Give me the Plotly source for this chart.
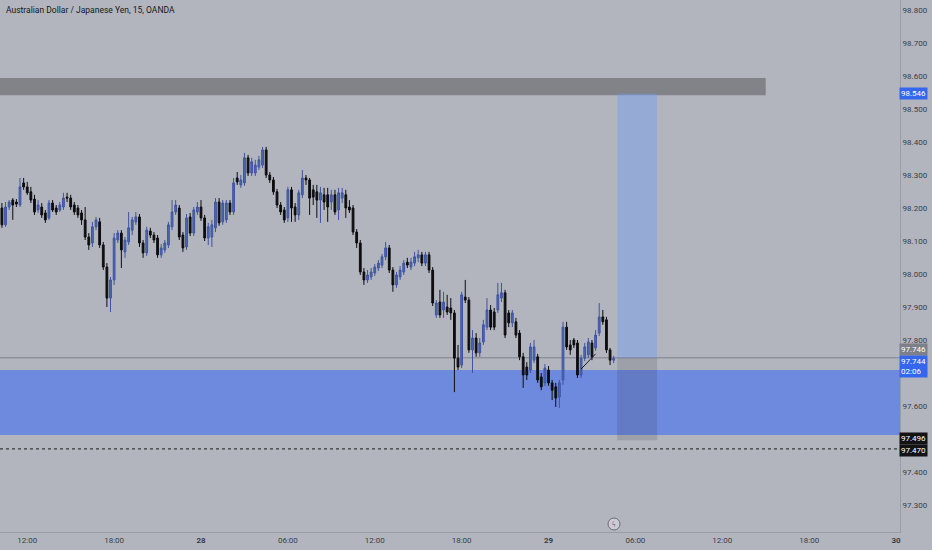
import pandas as pd
import plotly.graph_objects as go

# ---------------- data ----------------
start_time = "2023-11-27 10:15"
bar_freq = "15min"

open_ = [98.200, 98.149, 98.203, 98.224, 98.218, 98.209, 98.276, 98.264, 98.249, 98.227,
         98.194, 98.203, 98.185, 98.170, 98.215, 98.200, 98.194, 98.203, 98.233, 98.230,
         98.209, 98.200, 98.185, 98.164, 98.112, 98.094, 98.143, 98.158, 98.088, 98.021,
         97.927, 97.982, 98.103, 98.124, 98.067, 98.097, 98.133, 98.158, 98.173, 98.094,
         98.064, 98.130, 98.118, 98.109, 98.058, 98.073, 98.088, 98.143, 98.188, 98.200,
         98.118, 98.082, 98.173, 98.124, 98.188, 98.203, 98.170, 98.109, 98.112, 98.140,
         98.218, 98.158, 98.164, 98.215, 98.188, 98.291, 98.270, 98.276, 98.352, 98.306,
         98.306, 98.324, 98.330, 98.376, 98.300, 98.285, 98.249, 98.209, 98.194, 98.170,
         98.255, 98.203, 98.179, 98.240, 98.291, 98.285, 98.255, 98.249, 98.224, 98.240,
         98.240, 98.218, 98.240, 98.194, 98.230, 98.240, 98.203, 98.200, 98.127, 98.094,
         98.006, 97.982, 97.991, 98.003, 98.018, 98.027, 98.052, 98.079, 98.012, 97.967,
         97.991, 98.006, 98.036, 98.021, 98.033, 98.049, 98.058, 98.033, 98.058, 98.012,
         97.876, 97.915, 97.891, 97.900, 97.897, 97.882, 97.745, 97.724, 97.930, 97.921,
         97.770, 97.806, 97.761, 97.794, 97.839, 97.891, 97.885, 97.891, 97.927, 97.943,
         97.882, 97.852, 97.855, 97.821, 97.749, 97.718, 97.709, 97.739, 97.749, 97.688,
         97.670, 97.709, 97.670, 97.658, 97.627, 97.679, 97.839, 97.785, 97.800, 97.791,
         97.694, 97.745, 97.755, 97.791, 97.776, 97.821, 97.870, 97.861, 97.770, 97.739]

high = [98.215, 98.218, 98.224, 98.230, 98.227, 98.291, 98.291, 98.279, 98.264, 98.240,
        98.224, 98.215, 98.194, 98.224, 98.224, 98.209, 98.218, 98.246, 98.246, 98.240,
        98.218, 98.209, 98.194, 98.203, 98.124, 98.158, 98.173, 98.170, 98.097, 98.033,
        97.991, 98.124, 98.133, 98.133, 98.112, 98.188, 98.173, 98.188, 98.182, 98.103,
        98.143, 98.140, 98.127, 98.118, 98.091, 98.103, 98.158, 98.224, 98.224, 98.209,
        98.127, 98.182, 98.185, 98.203, 98.218, 98.224, 98.179, 98.155, 98.164, 98.230,
        98.230, 98.224, 98.224, 98.224, 98.291, 98.309, 98.300, 98.367, 98.361, 98.352,
        98.346, 98.358, 98.385, 98.385, 98.309, 98.294, 98.258, 98.218, 98.203, 98.264,
        98.264, 98.215, 98.255, 98.315, 98.300, 98.291, 98.270, 98.270, 98.264, 98.261,
        98.261, 98.255, 98.255, 98.261, 98.261, 98.255, 98.224, 98.209, 98.136, 98.103,
        98.018, 98.012, 98.018, 98.030, 98.042, 98.061, 98.097, 98.088, 98.021, 98.006,
        98.024, 98.042, 98.049, 98.049, 98.067, 98.073, 98.067, 98.067, 98.067, 98.021,
        97.921, 97.952, 97.946, 97.937, 97.927, 97.891, 97.785, 97.946, 97.982, 97.930,
        97.830, 97.821, 97.806, 97.861, 97.927, 97.906, 97.897, 97.973, 97.973, 97.952,
        97.891, 97.891, 97.867, 97.830, 97.761, 97.733, 97.791, 97.800, 97.758, 97.700,
        97.727, 97.721, 97.679, 97.670, 97.679, 97.855, 97.855, 97.800, 97.806, 97.800,
        97.755, 97.791, 97.806, 97.800, 97.830, 97.912, 97.891, 97.870, 97.776, 97.752]

low = [98.140, 98.143, 98.194, 98.164, 98.203, 98.203, 98.255, 98.240, 98.215, 98.179,
       98.185, 98.170, 98.155, 98.164, 98.188, 98.179, 98.188, 98.194, 98.218, 98.194,
       98.179, 98.170, 98.149, 98.103, 98.073, 98.082, 98.133, 98.079, 98.012, 97.900,
       97.885, 97.967, 98.094, 98.018, 98.049, 98.088, 98.118, 98.149, 98.082, 98.049,
       98.055, 98.109, 98.094, 98.049, 98.049, 98.064, 98.079, 98.133, 98.179, 98.103,
       98.067, 98.073, 98.115, 98.115, 98.179, 98.161, 98.100, 98.088, 98.082, 98.127,
       98.146, 98.149, 98.155, 98.179, 98.179, 98.270, 98.261, 98.267, 98.297, 98.297,
       98.297, 98.315, 98.321, 98.291, 98.276, 98.240, 98.200, 98.179, 98.155, 98.158,
       98.158, 98.158, 98.164, 98.230, 98.270, 98.179, 98.209, 98.170, 98.155, 98.194,
       98.158, 98.194, 98.179, 98.164, 98.215, 98.170, 98.185, 98.118, 98.079, 97.997,
       97.967, 97.973, 97.982, 97.994, 98.009, 98.018, 98.042, 98.003, 97.946, 97.958,
       97.982, 97.997, 98.018, 98.012, 98.024, 98.036, 98.024, 98.024, 98.003, 97.903,
       97.867, 97.867, 97.867, 97.876, 97.861, 97.642, 97.709, 97.715, 97.912, 97.761,
       97.700, 97.749, 97.749, 97.785, 97.830, 97.830, 97.830, 97.882, 97.915, 97.806,
       97.839, 97.839, 97.806, 97.739, 97.655, 97.679, 97.700, 97.730, 97.670, 97.648,
       97.661, 97.661, 97.618, 97.597, 97.594, 97.664, 97.770, 97.755, 97.776, 97.685,
       97.685, 97.736, 97.745, 97.739, 97.767, 97.812, 97.846, 97.761, 97.724, 97.730]

close = [98.149, 98.203, 98.218, 98.209, 98.212, 98.264, 98.264, 98.246, 98.224, 98.188,
         98.209, 98.179, 98.164, 98.215, 98.194, 98.188, 98.209, 98.230, 98.230, 98.203,
         98.188, 98.179, 98.164, 98.112, 98.088, 98.143, 98.164, 98.088, 98.021, 97.927,
         97.982, 98.109, 98.124, 98.073, 98.103, 98.140, 98.164, 98.173, 98.094, 98.064,
         98.133, 98.118, 98.103, 98.058, 98.079, 98.094, 98.149, 98.188, 98.209, 98.112,
         98.079, 98.170, 98.124, 98.194, 98.203, 98.170, 98.109, 98.143, 98.149, 98.218,
         98.155, 98.215, 98.215, 98.188, 98.276, 98.279, 98.285, 98.352, 98.306, 98.340,
         98.330, 98.346, 98.376, 98.300, 98.285, 98.249, 98.209, 98.188, 98.164, 98.255,
         98.200, 98.179, 98.246, 98.291, 98.285, 98.230, 98.233, 98.224, 98.246, 98.218,
         98.203, 98.240, 98.188, 98.246, 98.246, 98.200, 98.194, 98.127, 98.094, 98.006,
         97.982, 97.997, 98.006, 98.021, 98.033, 98.052, 98.079, 98.012, 97.967, 97.997,
         98.012, 98.033, 98.027, 98.036, 98.052, 98.058, 98.033, 98.058, 98.012, 97.912,
         97.912, 97.876, 97.915, 97.885, 97.882, 97.745, 97.718, 97.937, 97.921, 97.770,
         97.806, 97.761, 97.791, 97.846, 97.891, 97.839, 97.839, 97.937, 97.943, 97.815,
         97.852, 97.882, 97.815, 97.749, 97.694, 97.694, 97.779, 97.779, 97.679, 97.658,
         97.715, 97.670, 97.648, 97.624, 97.670, 97.839, 97.779, 97.770, 97.785, 97.694,
         97.745, 97.779, 97.794, 97.749, 97.815, 97.870, 97.855, 97.770, 97.739, 97.744]

times = pd.date_range(start_time, periods=len(close), freq=bar_freq)

title_text = "Australian Dollar / Japanese Yen, 15, OANDA"

x_tick_vals = ["2023-11-27 12:00", "2023-11-27 18:00", "2023-11-28 00:00", "2023-11-28 06:00",
               "2023-11-28 12:00", "2023-11-28 18:00", "2023-11-29 00:00", "2023-11-29 06:00",
               "2023-11-29 12:00", "2023-11-29 18:00", "2023-11-30 00:00"]
x_tick_text = ["12:00", "18:00", "<b>28</b>", "06:00", "12:00", "18:00", "<b>29</b>",
               "06:00", "12:00", "18:00", "<b>30</b>"]
y_tick_vals = [97.3, 97.4, 97.5, 97.6, 97.7, 97.8, 97.9, 98.0, 98.1, 98.2,
               98.3, 98.4, 98.5, 98.6, 98.7, 98.8]

# drawings
resistance_zone = (98.542, 98.594)
support_zone = (97.512, 97.709)
entry_price = 97.746
target_price = 98.546
stop_price = 97.496
last_price = 97.744
dotted_level = 97.470
countdown = "02:06"

BG = "#b2b5be"
FONT = "Roboto"

fig = go.Figure()

fig.add_trace(go.Candlestick(
    x=times, open=open_, high=high, low=low, close=close,
    increasing=dict(line=dict(color="#3e54a0", width=1), fillcolor="#5068b4"),
    decreasing=dict(line=dict(color="#0e0e10", width=1), fillcolor="#0e0e10"),
    whiskerwidth=0, hoverinfo="skip", showlegend=False,
))

shapes = []
# resistance zone (dark gray)
shapes.append(dict(type="rect", xref="x", yref="y", x0="2023-11-27 06:00", x1="2023-11-29 15:00",
                   y0=resistance_zone[0], y1=resistance_zone[1],
                   fillcolor="#818389", line=dict(width=0), layer="below"))
# support zone (blue)
shapes.append(dict(type="rect", xref="paper", yref="y", x0=0, x1=1,
                   y0=support_zone[0], y1=support_zone[1],
                   fillcolor="#6e8ade", line=dict(width=0), layer="below"))
# current price line
shapes.append(dict(type="line", xref="paper", yref="y", x0=0, x1=1, y0=entry_price, y1=entry_price,
                   line=dict(color="rgba(120,123,134,0.9)", width=1), layer="below"))
# dotted level
shapes.append(dict(type="line", xref="paper", yref="y", x0=0, x1=1, y0=dotted_level, y1=dotted_level,
                   line=dict(color="#1a1a1a", width=1, dash="dot")))
# position tool: target (blue) and stop (gray)
shapes.append(dict(type="rect", xref="x", yref="y", x0="2023-11-29 04:45", x1="2023-11-29 07:30",
                   y0=entry_price, y1=target_price,
                   fillcolor="rgba(108,154,250,0.40)", line=dict(width=0)))
shapes.append(dict(type="rect", xref="x", yref="y", x0="2023-11-29 04:45", x1="2023-11-29 07:30",
                   y0=stop_price, y1=entry_price,
                   fillcolor="rgba(40,40,45,0.15)", line=dict(width=0)))
# small trend line
shapes.append(dict(type="line", xref="x", yref="y", x0="2023-11-29 02:15", x1="2023-11-29 03:15",
                   y0=97.712, y1=97.758, line=dict(color="#1e1e22", width=1)))
# replay icon circle
shapes.append(dict(type="circle", xref="paper", yref="paper", xsizemode="pixel", ysizemode="pixel",
                   xanchor=614 / 900, yanchor=1 - 524 / 532, x0=-6, x1=6, y0=-6, y1=6,
                   fillcolor="#c9ccd4", line=dict(color="#6a6d78", width=1)))

annotations = []
annotations.append(dict(text=title_text, xref="paper", yref="paper", x=0, y=1, xanchor="left",
                        yanchor="top", xshift=4, yshift=-3, showarrow=False,
                        font=dict(family=FONT, size=8.5, color="#131722")))
annotations.append(dict(text="ϟ", xref="paper", yref="paper", x=614 / 900, y=1 - 524 / 532,
                        xanchor="center", yanchor="middle",
                        showarrow=False, font=dict(family=FONT, size=8, color="#444")))


def price_label(y, text, bg, yshift=0, fg="white"):
    annotations.append(dict(text=text, xref="paper", yref="y", x=1, y=y, xanchor="left",
                            yanchor="middle", xshift=-1, yshift=yshift, showarrow=False,
                            bgcolor=bg, borderpad=1, align="left",
                            font=dict(family=FONT, size=8, color=fg)))


price_label(target_price, f"{target_price:.3f}", "#3566ee")
price_label(entry_price, f"{entry_price:.3f}", "#7d8089", yshift=8)
price_label(last_price, f"{last_price:.3f}<br>{countdown}", "#3566ee", yshift=-8)
price_label(stop_price, f"{stop_price:.3f}", "#131316", yshift=2)
price_label(dotted_level, f"{dotted_level:.3f}", "#131316", yshift=-2)

fig.update_layout(
    width=932, height=550,
    margin=dict(l=0, r=32, t=0, b=18),
    paper_bgcolor=BG, plot_bgcolor=BG,
    font=dict(family=FONT, size=8, color="#3a3d45"),
    shapes=shapes, annotations=annotations,
    xaxis=dict(type="date", range=["2023-11-27 10:07:06", "2023-11-30 00:16:24"],
               tickvals=x_tick_vals, ticktext=x_tick_text, showgrid=False, zeroline=False,
               rangeslider=dict(visible=False), showline=True, linecolor="#9a9da6", linewidth=1,
               ticks="", tickfont=dict(family=FONT, size=8, color="#3a3d45"), fixedrange=True),
    yaxis=dict(side="right", range=[97.2182, 98.8303], tickvals=y_tick_vals, tickformat=".3f",
               showgrid=False, zeroline=False, showline=True, linecolor="#9a9da6", linewidth=1,
               ticks="", tickfont=dict(family=FONT, size=8, color="#3a3d45"), fixedrange=True),
)

fig.write_html("out.html", config={"displayModeBar": False},
               post_script="document.body.style.margin='0';document.body.style.background='" + BG + "';")
